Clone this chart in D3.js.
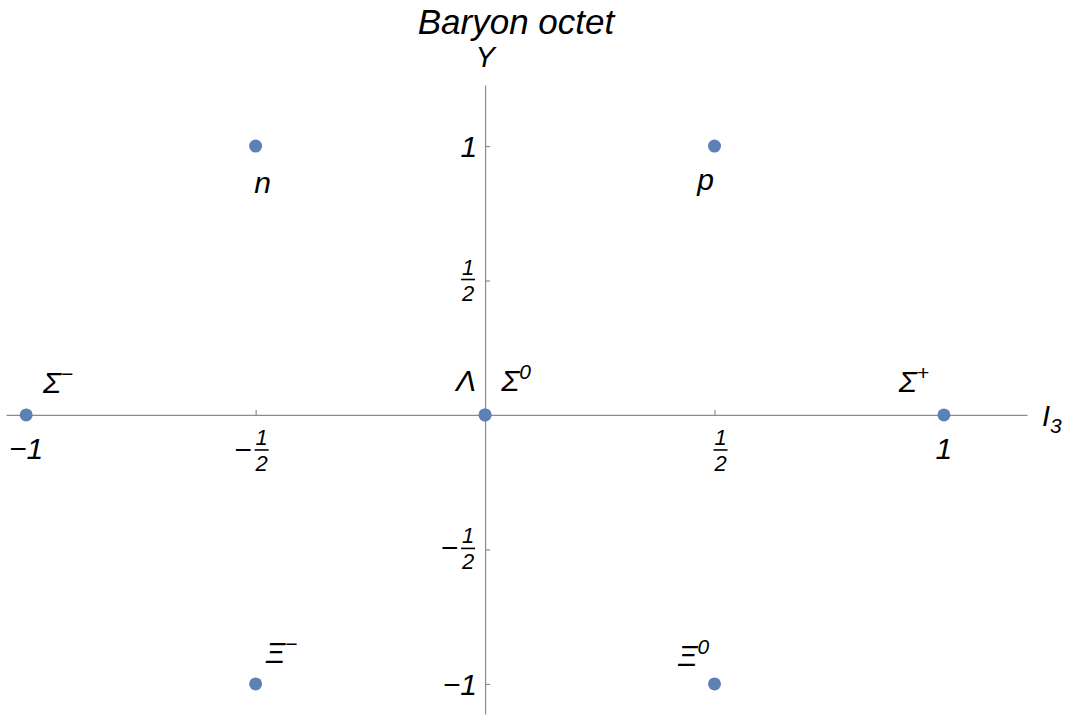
<!DOCTYPE html>
<html>
<head>
<meta charset="utf-8">
<script src="https://cdn.jsdelivr.net/npm/d3@7"></script>
<style>
  body { margin: 0; background: #fff; }
  text { font-family: "Liberation Sans", Arial, sans-serif; font-style: italic; fill: #000; }
</style>
</head>
<body>
<script>
const w = 1066, h = 717;

// particles of the baryon octet: isospin I3, hypercharge Y
const names = ["n", "p", "Σ", "Λ", "Σ", "Σ", "Ξ", "Ξ"];
const charges = ["", "", "−", "", "0", "+", "−", "0"];
const i3 = [-0.5, 0.5, -1, 0, 0, 1, -0.5, 0.5];
const hyper = [1, 1, 0, 0, 0, 0, -1, -1];

// label offsets from the point (px)
const labelDx = [7, -9, 32, -19, 31, -30, 26, -21];
const labelDy = [47, 44, -22, -24, -24, -23, -21, -18];

const tickVals = [-1, -0.5, 0.5, 1];
const tickNum = ["1", "1", "1", "1"];
const tickDen = ["", "2", "2", ""];
const tickSign = ["−", "−", "", ""];

const x = d3.scaleLinear().domain([-1.044, 1.181]).range([6, 1027]);
const y = d3.scaleLinear().domain([-1.112, 1.227]).range([714, 85]);

const svg = d3.select('body').append('svg').attr('width', w).attr('height', h);

// axes
svg.append('g').attr('transform', `translate(0,${y(0)})`)
  .call(d3.axisBottom(x).tickValues(tickVals).tickSizeInner(-5).tickSizeOuter(0).tickFormat(''));
svg.append('g').attr('transform', `translate(${x(0)},0)`)
  .call(d3.axisLeft(y).tickValues(tickVals).tickSizeInner(-5).tickSizeOuter(0).tickFormat(''));
svg.selectAll('.domain, .tick line').attr('stroke', '#8c8c8c').attr('stroke-width', 1.2);

// tick labels
function tickLabel(g, i, cx, cy, anchorRight) {
  const den = tickDen[i];
  if (!den) {
    g.append('text').attr('x', cx).attr('y', cy)
      .attr('text-anchor', anchorRight ? 'end' : 'middle')
      .attr('font-size', 30).text(tickSign[i] + tickNum[i]);
    return;
  }
  // fraction
  const fx = anchorRight ? cx - 9 : cx + 6;
  if (tickSign[i]) {
    g.append('text').attr('x', fx - 10).attr('y', cy + 10)
      .attr('text-anchor', 'end').attr('font-size', 30).text(tickSign[i]);
  }
  g.append('text').attr('x', fx).attr('y', cy - 5).attr('text-anchor', 'middle')
    .attr('font-size', 22).text(tickNum[i]);
  g.append('line').attr('x1', fx - 7).attr('x2', fx + 7)
    .attr('y1', cy).attr('y2', cy).attr('stroke', '#000').attr('stroke-width', 1.6);
  g.append('text').attr('x', fx).attr('y', cy + 21).attr('text-anchor', 'middle')
    .attr('font-size', 22).text(den);
}

const xl = svg.append('g');
tickVals.forEach((d, i) => {
  tickLabel(xl, i, x(d), y(0) + (tickDen[i] ? 35 : 44), false);
});
const yl = svg.append('g');
tickVals.forEach((d, i) => {
  tickLabel(yl, i, x(0) - 8, y(d) + (tickDen[i] ? -1 : 11), true);
});

// axis titles
svg.append('text').attr('x', x(0)).attr('y', 67).attr('text-anchor', 'middle')
  .attr('font-size', 29).text('Y');
const i3t = svg.append('text').attr('x', 1042).attr('y', y(0) + 11).attr('font-size', 29);
i3t.append('tspan').text('I');
i3t.append('tspan').attr('font-size', 21).attr('dy', 7).text('3');

// title
svg.append('text').attr('x', 516).attr('y', 34).attr('text-anchor', 'middle')
  .attr('font-size', 35).text('Baryon octet');

// points
const idx = d3.range(names.length);
svg.append('g').selectAll('circle').data(idx).enter().append('circle')
  .attr('cx', i => x(i3[i])).attr('cy', i => y(hyper[i])).attr('r', 6.5)
  .attr('fill', '#5e81b5');

// particle labels
const lab = svg.append('g').selectAll('text').data(idx).enter().append('text')
  .attr('x', i => x(i3[i]) + labelDx[i]).attr('y', i => y(hyper[i]) + labelDy[i])
  .attr('text-anchor', 'middle').attr('font-size', 30);
lab.append('tspan').text(i => names[i]);
lab.append('tspan').attr('font-size', 21).attr('dy', -12).text(i => charges[i]);
</script>
</body>
</html>
